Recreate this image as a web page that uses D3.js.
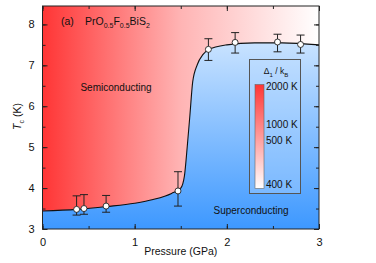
<!DOCTYPE html>
<html>
<head>
<meta charset="utf-8">
<script src="https://cdn.jsdelivr.net/npm/d3@7"></script>
<style>
  body { margin: 0; background: #fff; }
  text { font-family: "Liberation Sans", Arial, sans-serif; fill: #111; }
</style>
</head>
<body>
<svg id="chart" width="376" height="263"></svg>
<script>
// measured Tc points (GPa, K) with error bars
var pressure = [0.37, 0.45, 0.69, 1.47, 1.80, 2.09, 2.55, 2.80];
var tc       = [3.48, 3.50, 3.56, 3.93, 7.39, 7.56, 7.57, 7.51];
var tcHigh   = [3.81, 3.84, 3.82, 4.40, 7.65, 7.80, 7.76, 7.74];
var tcLow    = [3.34, 3.36, 3.41, 3.56, 7.12, 7.30, 7.33, 7.30];

// phase boundary (guide to the eye)
var boundaryP  = [0, 0.37, 0.7, 1.0, 1.2, 1.4, 1.5, 1.54, 1.57, 1.6, 1.63, 1.68, 1.74, 1.8, 2.0, 2.3, 2.6, 3.0];
var boundaryTc = [3.44, 3.48, 3.55, 3.63, 3.72, 3.87, 4.0, 4.3, 5.0, 5.8, 6.6, 7.02, 7.26, 7.38, 7.50, 7.55, 7.55, 7.50];

var xTicks = [0, 1, 2, 3];
var yTicks = [3, 4, 5, 6, 7, 8];
var gapLabels = ["2000 K", "1000 K", "500 K", "400 K"];
var gapPos = [0, 0.37, 0.52, 0.95];   // relative place on the colour bar

var svg = d3.select("#chart");
var margin = {left: 42.5, right: 57, top: 6, bottom: 34};
var W = 376, H = 263;
var x = d3.scaleLinear().domain([0, 3]).range([margin.left, W - margin.right]);
var y = d3.scaleLinear().domain([3, 8.45]).range([H - margin.bottom, margin.top]);

var defs = svg.append("defs");
var red = defs.append("linearGradient").attr("id", "redGrad")
    .attr("gradientUnits", "userSpaceOnUse")
    .attr("x1", x(0)).attr("x2", x(3)).attr("y1", 0).attr("y2", 0);
red.append("stop").attr("offset", "0%").attr("stop-color", "#ff3535");
red.append("stop").attr("offset", "50%").attr("stop-color", "#ffb4b4");
red.append("stop").attr("offset", "100%").attr("stop-color", "#ffffff");

var blue = defs.append("linearGradient").attr("id", "blueGrad")
    .attr("gradientUnits", "userSpaceOnUse")
    .attr("x1", 0).attr("x2", 0).attr("y1", y(8.45)).attr("y2", y(3));
blue.append("stop").attr("offset", "0%").attr("stop-color", "#e4f1ff");
blue.append("stop").attr("offset", "100%").attr("stop-color", "#3d98ff");

var bar = defs.append("linearGradient").attr("id", "barGrad")
    .attr("x1", 0).attr("x2", 0).attr("y1", 0).attr("y2", 1);
bar.append("stop").attr("offset", "0%").attr("stop-color", "#ff3535");
bar.append("stop").attr("offset", "100%").attr("stop-color", "#ffffff");

defs.append("clipPath").attr("id", "clip").append("rect")
    .attr("x", x(0)).attr("y", y(8.45)).attr("width", x(3) - x(0)).attr("height", y(3) - y(8.45));

var plot = svg.append("g").attr("clip-path", "url(#clip)");
plot.append("rect")
    .attr("x", x(0)).attr("y", y(8.45)).attr("width", x(3) - x(0)).attr("height", y(3) - y(8.45))
    .attr("fill", "url(#redGrad)");

var bnd = boundaryP.map(function(p, i) { return [p, boundaryTc[i]]; });
var area = d3.area().curve(d3.curveMonotoneX)
    .x(function(d) { return x(d[0]); })
    .y0(y(3))
    .y1(function(d) { return y(d[1]); });
plot.append("path").datum(bnd).attr("d", area).attr("fill", "url(#blueGrad)");

var line = d3.line().curve(d3.curveMonotoneX)
    .x(function(d) { return x(d[0]); })
    .y(function(d) { return y(d[1]); });
plot.append("path").datum(bnd).attr("d", line)
    .attr("fill", "none").attr("stroke", "#111").attr("stroke-width", 1.1);

// error bars and points
var pts = svg.append("g");
pressure.forEach(function(p, i) {
  var cx = x(p);
  pts.append("line").attr("x1", cx).attr("x2", cx).attr("y1", y(tcHigh[i])).attr("y2", y(tcLow[i]))
     .attr("stroke", "#222").attr("stroke-width", 1);
  [tcHigh[i], tcLow[i]].forEach(function(v) {
    pts.append("line").attr("x1", cx - 4).attr("x2", cx + 4).attr("y1", y(v)).attr("y2", y(v))
       .attr("stroke", "#222").attr("stroke-width", 1);
  });
  pts.append("circle").attr("cx", cx).attr("cy", y(tc[i])).attr("r", 3)
     .attr("fill", "#fff").attr("stroke", "#222").attr("stroke-width", 0.9);
});

// axes with inward ticks on all sides
function minor(scale, step) {
  var d = scale.domain(), out = [];
  for (var v = Math.ceil(d[0] / step) * step; v <= d[1] + 1e-9; v += step) out.push(+v.toFixed(3));
  return out;
}
var fmt = d3.format("d");
var gx = svg.append("g").attr("transform", "translate(0," + y(3) + ")")
  .call(d3.axisBottom(x).tickValues(xTicks).tickFormat(fmt).tickSizeInner(-5).tickSizeOuter(0).tickPadding(9));
var gxm = svg.append("g").attr("transform", "translate(0," + y(3) + ")")
  .call(d3.axisBottom(x).tickValues(minor(x, 0.5)).tickSizeInner(-3).tickSizeOuter(0).tickFormat(""));
var gxt = svg.append("g").attr("transform", "translate(0," + y(8.45) + ")")
  .call(d3.axisTop(x).tickValues(minor(x, 0.5)).tickSizeInner(-3).tickSizeOuter(0).tickFormat(""));
var gxt2 = svg.append("g").attr("transform", "translate(0," + y(8.45) + ")")
  .call(d3.axisTop(x).tickValues(xTicks).tickSizeInner(-5).tickSizeOuter(0).tickFormat(""));
var gy = svg.append("g").attr("transform", "translate(" + x(0) + ",0)")
  .call(d3.axisLeft(y).tickValues(yTicks).tickFormat(fmt).tickSizeInner(-5).tickSizeOuter(0).tickPadding(8));
var gym = svg.append("g").attr("transform", "translate(" + x(0) + ",0)")
  .call(d3.axisLeft(y).tickValues(minor(y, 0.5)).tickSizeInner(-3).tickSizeOuter(0).tickFormat(""));
var gyr = svg.append("g").attr("transform", "translate(" + x(3) + ",0)")
  .call(d3.axisRight(y).tickValues(minor(y, 0.5)).tickSizeInner(-3).tickSizeOuter(0).tickFormat(""));
var gyr2 = svg.append("g").attr("transform", "translate(" + x(3) + ",0)")
  .call(d3.axisRight(y).tickValues(yTicks).tickSizeInner(-5).tickSizeOuter(0).tickFormat(""));
[gx, gxm, gxt, gxt2, gy, gym, gyr, gyr2].forEach(function(g) {
  g.select(".domain").remove();
  g.selectAll("line").attr("stroke", "#222");
  g.selectAll("text").style("font-size", "11px").style("font-family", "Liberation Sans, Arial, sans-serif").attr("fill", "#111");
});

svg.append("rect").attr("x", x(0)).attr("y", y(8.45)).attr("width", x(3) - x(0)).attr("height", y(3) - y(8.45))
   .attr("fill", "none").attr("stroke", "#222").attr("stroke-width", 1);

// axis titles
svg.append("text").attr("x", x(1.5)).attr("y", 255).attr("text-anchor", "middle")
   .style("font-size", "10.5px").text("Pressure (GPa)");
var yl = svg.append("text").attr("transform", "translate(21," + y(5.75) + ") rotate(-90)")
   .attr("text-anchor", "middle").style("font-size", "10.5px");
yl.append("tspan").style("font-style", "italic").text("T");
yl.append("tspan").attr("dy", 3).style("font-size", "7px").text("c");
yl.append("tspan").attr("dy", -3).text(" (K)");

// annotations
svg.append("text").attr("x", 61).attr("y", 25).style("font-size", "10.5px").text("(a)");
var form = svg.append("text").attr("x", 85).attr("y", 25).style("font-size", "10.5px");
form.append("tspan").text("PrO");
form.append("tspan").attr("dy", 3).style("font-size", "7px").text("0.5");
form.append("tspan").attr("dy", -3).text("F");
form.append("tspan").attr("dy", 3).style("font-size", "7px").text("0.5");
form.append("tspan").attr("dy", -3).text("BiS");
form.append("tspan").attr("dy", 3).style("font-size", "7px").text("2");

svg.append("text").attr("x", 116).attr("y", 91).attr("text-anchor", "middle")
   .style("font-size", "10px").text("Semiconducting");
svg.append("text").attr("x", 251).attr("y", 214).attr("text-anchor", "middle")
   .style("font-size", "10px").text("Superconducting");

// colour bar legend
var lg = svg.append("g");
lg.append("rect").attr("x", 249.5).attr("y", 59.5).attr("width", 51).attr("height", 134)
  .attr("fill", "#bcdcff").attr("fill-opacity", 0.35).attr("stroke", "#555").attr("stroke-width", 1);
var barY0 = 84.5, barH = 104;
lg.append("rect").attr("x", 255).attr("y", barY0).attr("width", 9).attr("height", barH)
  .attr("fill", "url(#barGrad)").attr("stroke", "#666").attr("stroke-width", 0.6);
var lt = lg.append("text").attr("x", 276).attr("y", 74).attr("text-anchor", "middle").style("font-size", "8.5px");
lt.append("tspan").text("\u0394");
lt.append("tspan").attr("dy", 2.5).style("font-size", "6px").text("1");
lt.append("tspan").attr("dy", -2.5).text(" / k");
lt.append("tspan").attr("dy", 2.5).style("font-size", "6px").text("B");
gapLabels.forEach(function(t, i) {
  lg.append("text").attr("x", 266).attr("y", barY0 + gapPos[i] * barH + 5)
    .style("font-size", "10px").text(t);
});
</script>
</body>
</html>
